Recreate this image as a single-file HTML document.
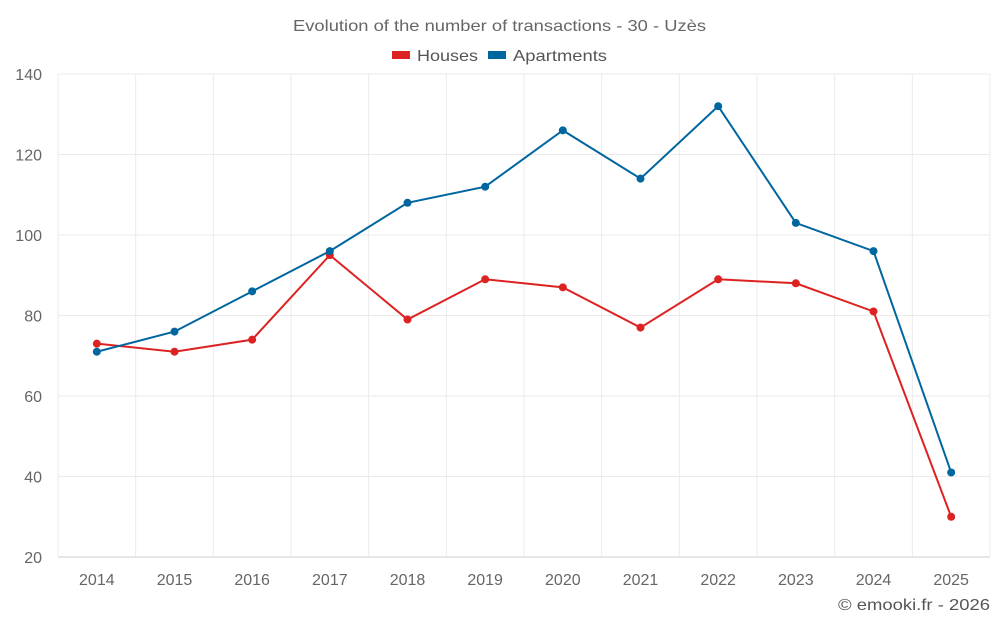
<!DOCTYPE html>
<html><head><meta charset="utf-8">
<style>
body{margin:0;background:#fff;font-family:"Liberation Sans",sans-serif;}
svg text{font-family:"Liberation Sans",sans-serif;}
</style></head>
<body>
<svg id="chart" width="1000" height="625">
<text x="293" y="31" textLength="413" lengthAdjust="spacingAndGlyphs" font-size="16" fill="#666">Evolution of the number of transactions - 30 - Uzès</text>
<g>
<g><rect x="392" y="51" width="18" height="8" fill="#dd2222"/><text x="417" y="61" textLength="61" lengthAdjust="spacingAndGlyphs" font-size="16" fill="#555">Houses</text></g>
<g><rect x="488" y="51" width="18" height="8" fill="#0066a0"/><text x="513" y="61" textLength="94" lengthAdjust="spacingAndGlyphs" font-size="16" fill="#555">Apartments</text></g>
</g>
<g id="grid"></g><g id="axes"></g><g id="series"></g>
<text x="838" y="610" textLength="152" lengthAdjust="spacingAndGlyphs" font-size="16" fill="#555">© emooki.fr - 2026</text>
</svg>
<script>
const years=["2014","2015","2016","2017","2018","2019","2020","2021","2022","2023","2024","2025"];
const houses=[73,71,74,95,79,89,87,77,89,88,81,30];
const apartments=[71,76,86,96,108,112,126,114,132,103,96,41];
const yTicks=[20,40,60,80,100,120,140];
const NS="http://www.w3.org/2000/svg";
const L=58,R=990,T=74,B=557,yMin=20,yMax=140;
const bw=(R-L)/years.length;
const xS=i=>L+bw*(i+0.5);
const yS=v=>B-(v-yMin)/(yMax-yMin)*(B-T);
function mk(t,a,p){const e=document.createElementNS(NS,t);for(const k in a)e.setAttribute(k,a[k]);p.appendChild(e);return e;}
const grid=document.getElementById('grid'),axes=document.getElementById('axes'),ser=document.getElementById('series');
yTicks.forEach(v=>{
 const l=mk('line',{x1:L,x2:R,y1:yS(v),y2:yS(v),stroke:v===yMin?'#ccc':'#ebebeb'},grid);
 
 
 const t=mk('text',{x:42,y:yS(v)+6,'text-anchor':'end','font-size':16,fill:'#666'},axes);
 t.textContent=v;
 
 
});
for(let i=0;i<=years.length;i++){
 const l=mk('line',{x1:L+bw*i,x2:L+bw*i,y1:T,y2:B,stroke:'#ebebeb'},grid);
 
 
}
years.forEach((y,i)=>{
 const t=mk('text',{x:xS(i),y:585,'text-anchor':'middle','font-size':16,fill:'#666'},axes);
 t.textContent=y;
 
 
});
function draw(vals,color,name){
 const p=mk('polyline',{points:vals.map((v,i)=>xS(i)+','+yS(v)).join(' '),fill:'none',stroke:color,'stroke-width':2},ser);
 
 
 vals.forEach((v,i)=>{
  const c=mk('circle',{cx:xS(i),cy:yS(v),r:4,fill:color},ser);
  
  
 });
}
draw(houses,'#dd2222','houses');
draw(apartments,'#0066a0','apartments');
</script>
</body></html>
